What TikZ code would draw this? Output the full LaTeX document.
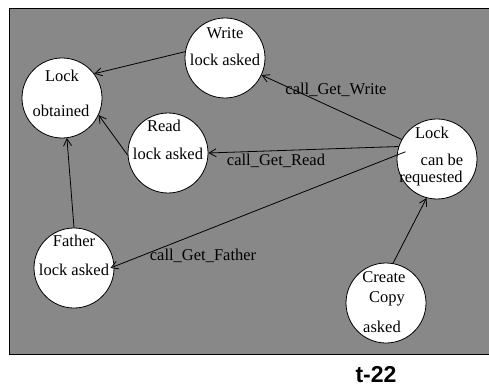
\documentclass[tikz,border=0pt]{standalone}
\usepackage{fontspec}
\setmainfont{Liberation Serif}
\newfontfamily\titlefont{Liberation Sans}
\usepackage{tikz}
\usetikzlibrary{arrows.meta, calc, positioning}
\definecolor{panelgray}{RGB}{136,136,136}

\begin{document}
\begin{tikzpicture}[x=1pt, y=-1pt,
    state/.style={circle, draw, fill=white, line width=0.8pt, minimum size=80pt, inner sep=0pt},
    txt/.style={inner sep=0pt, font=\fontsize{16.5}{18}\selectfont},
    trans/.style={-{Straight Barb[length=7pt, width=8pt]}, line width=0.8pt}]
    \useasboundingbox (0,0) rectangle (489,390);

    % panel
    \draw[fill=panelgray, line width=0.8pt] (9,8) rectangle (495,354);

    % states
    \node[state] (obt) at (62,98) {};
    \node[state] (wri) at (225,58) {};
    \node[state] (rea) at (168,153) {};
    \node[state] (req) at (437,159) {};
    \node[state] (fat) at (74,268) {};
    \node[state] (cre) at (386,303) {};

    % texts in the states
    \node[txt] (obt-a) at (62,76) {Lock};
    \node[txt] (obt-b) at (61,111) {obtained};
    \node[txt] (wri-a) at (225,33) {Write};
    \node[txt] (wri-b) at (225,60) {lock asked};
    \node[txt] (rea-a) at (164,126) {Read};
    \node[txt] (rea-b) at (168,154) {lock asked};
    \node[txt] (req-a) at (432,133) {Lock};
    \node[txt] (req-b) at (442,160) {can be};
    \node[txt] (req-c) at (431,179) {requested};
    \node[txt] (fat-a) at (74,241) {Father};
    \node[txt] (fat-b) at (74,270) {lock asked};
    \node[txt] (cre-a) at (384,277) {Create};
    \node[txt] (cre-b) at (387,299) {Copy};
    \node[txt] (cre-c) at (382,327) {asked};

    % transitions
    \draw[trans] (wri.171) -- (obt.37);
    \draw[trans] (rea.183) -- (obt.335);
    \draw[trans] (fat.90) -- (obt.277);
    \draw[trans] (req.151) -- (wri.335);
    \draw[trans] (req.162) -- (rea.0);
    \coordinate (req-in) at ($(req.center)!0.8!(req.167)$);
    \draw[trans] (req-in) -- ($(fat.center)!0.9!(fat.0)$);
    \draw[trans] (cre.80) -- (req.255);

    % labels
    \node[txt] (l-wri) at (336,90) {call\_Get\_Write};
    \node[txt] (l-rea) at (276,161) {call\_Get\_Read};
    \node[txt] (l-fat) at (203,256) {call\_Get\_Father};

    \node[font=\titlefont\bfseries\fontsize{23}{26}\selectfont, inner sep=0pt] (title) at (376,375) {t-22};
\end{tikzpicture}
\end{document}
